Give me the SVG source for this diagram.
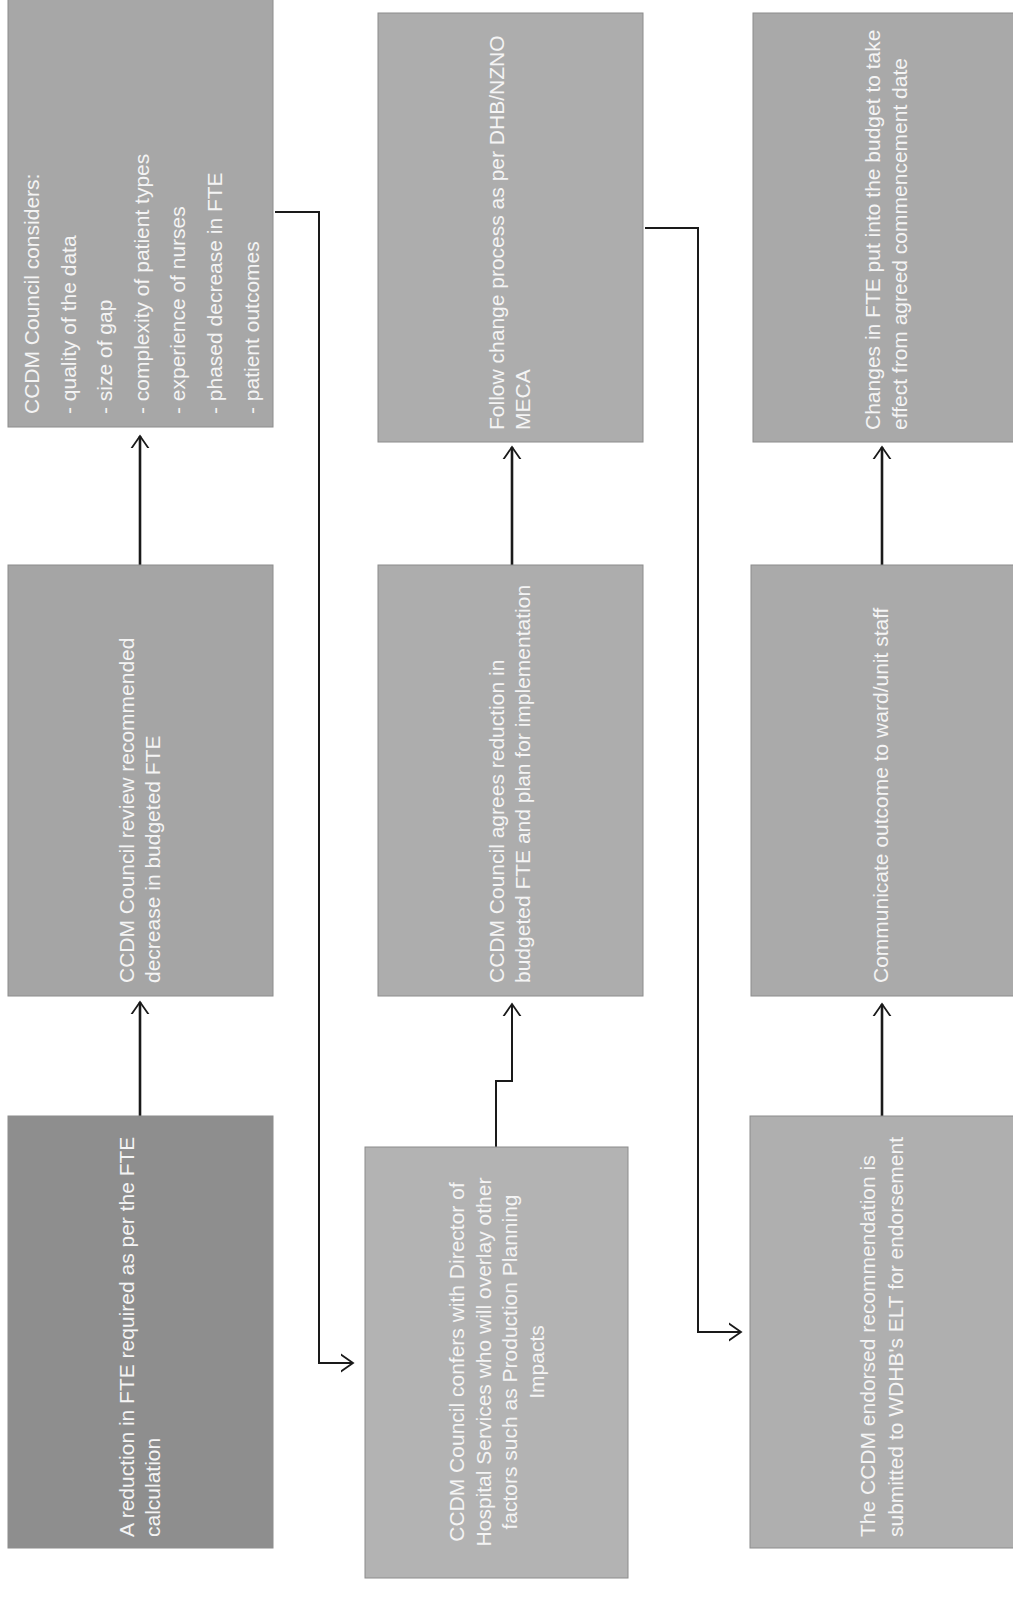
<svg xmlns="http://www.w3.org/2000/svg" width="1013" height="1601" viewBox="0 0 1013 1601">
<style>
.box{stroke:#8c8c8c;stroke-width:1}
.t{font-family:"Liberation Sans",Arial,sans-serif;font-size:21px;fill:#f4f4f4}
.c{text-anchor:middle}
.ln{fill:none;stroke:#1a1a1a;stroke-width:2}
.main{fill:none;stroke:#1a1a1a;stroke-width:2.6}
</style>
<defs>
<marker id="ah" viewBox="-12 -12 24 24" markerWidth="24" markerHeight="24" refX="0" refY="0" orient="auto" markerUnits="userSpaceOnUse">
<path d="M-13,-9 L0,0 L-13,9" fill="none" stroke="#1a1a1a" stroke-width="1.8"/>
</marker>
</defs>
<rect width="1013" height="1601" fill="#ffffff"/>

<g id="connectors">
<path class="main" d="M140,1116 V1002" marker-end="url(#ah)"/>
<path class="main" d="M140,565 V436" marker-end="url(#ah)"/>
<path class="ln" d="M275,212 H319 V1363 H353" marker-end="url(#ah)"/>
<path class="ln" d="M496,1147 V1081 H512 V1004" marker-end="url(#ah)"/>
<path class="main" d="M512,565 V447" marker-end="url(#ah)"/>
<path class="ln" d="M645,228 H698 V1332 H741" marker-end="url(#ah)"/>
<path class="main" d="M882,1116 V1004" marker-end="url(#ah)"/>
<path class="main" d="M882,565 V447" marker-end="url(#ah)"/>
</g>

<g id="n1">
<rect class="box" x="8" y="1116" width="265" height="432" fill="#8e8e8e"/>
<text class="t" transform="translate(134,1537) rotate(-90)">A reduction in FTE required as per the FTE</text>
<text class="t" transform="translate(160,1537) rotate(-90)">calculation</text>
</g>

<g id="n2">
<rect class="box" x="8" y="565" width="265" height="431" fill="#a5a5a5"/>
<text class="t" transform="translate(134,983) rotate(-90)">CCDM Council review recommended</text>
<text class="t" transform="translate(160,983) rotate(-90)">decrease in budgeted FTE</text>
</g>

<g id="n3">
<rect class="box" x="8" y="-1" width="265" height="428" fill="#a7a7a7"/>
<text class="t" transform="translate(39,414) rotate(-90)">CCDM Council considers:</text>
<text class="t" transform="translate(75.6,414) rotate(-90)">- quality of the data</text>
<text class="t" transform="translate(112.2,414) rotate(-90)">- size of gap</text>
<text class="t" transform="translate(148.8,414) rotate(-90)">- complexity of patient types</text>
<text class="t" transform="translate(185.4,414) rotate(-90)">- experience of nurses</text>
<text class="t" transform="translate(222,414) rotate(-90)">- phased decrease in FTE</text>
<text class="t" transform="translate(258.6,414) rotate(-90)">- patient outcomes</text>
</g>

<g id="n4">
<rect class="box" x="378" y="13" width="265" height="429" fill="#adadad"/>
<text class="t" transform="translate(504,430) rotate(-90)">Follow change process as per DHB/NZNO</text>
<text class="t" transform="translate(530,430) rotate(-90)">MECA</text>
</g>

<g id="n5">
<rect class="box" x="378" y="565" width="265" height="431" fill="#adadad"/>
<text class="t" transform="translate(504,983) rotate(-90)">CCDM Council agrees reduction in</text>
<text class="t" transform="translate(530,983) rotate(-90)">budgeted FTE and plan for implementation</text>
</g>

<g id="n6">
<rect class="box" x="753" y="13" width="262" height="429" fill="#a9a9a9"/>
<text class="t" transform="translate(880,430) rotate(-90)">Changes in FTE put into the budget to take</text>
<text class="t" transform="translate(907,430) rotate(-90)">effect from agreed commencement date</text>
</g>

<g id="n7">
<rect class="box" x="365" y="1147" width="263" height="431" fill="#b3b3b3"/>
<text class="t c" transform="translate(464,1362) rotate(-90)">CCDM Council confers with Director of</text>
<text class="t c" transform="translate(490.5,1362) rotate(-90)">Hospital Services who will overlay other</text>
<text class="t c" transform="translate(517,1362) rotate(-90)">factors such as Production Planning</text>
<text class="t c" transform="translate(543.5,1362) rotate(-90)">Impacts</text>
</g>

<g id="n8">
<rect class="box" x="751" y="565" width="264" height="431" fill="#aaaaaa"/>
<text class="t" transform="translate(888,983) rotate(-90)">Communicate outcome to ward/unit staff</text>
</g>

<g id="n9">
<rect class="box" x="750" y="1116" width="265" height="432" fill="#afafaf"/>
<text class="t" transform="translate(875,1537) rotate(-90)">The CCDM endorsed recommendation is</text>
<text class="t" transform="translate(903,1537) rotate(-90)">submitted to WDHB's ELT for endorsement</text>
</g>
</svg>
